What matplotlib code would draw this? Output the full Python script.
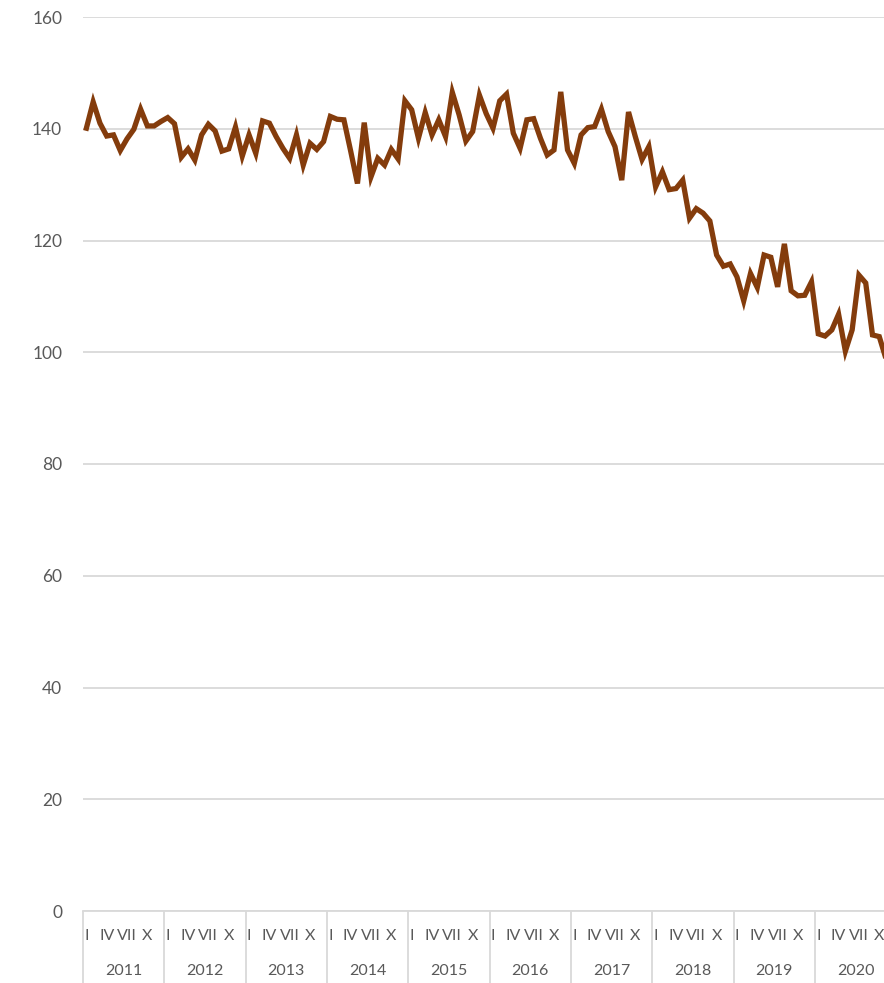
import numpy as np
import matplotlib.pyplot as plt

# monthly index values, Jan 2011 .. Nov 2020 (last point runs off the chart edge)
years = [2011, 2012, 2013, 2014, 2015, 2016, 2017, 2018, 2019, 2020]
month_labels = ["I", "IV", "VII", "X"]
month_label_pos = [0, 3, 6, 9]

values = [
    # 2011
    140.1, 144.8, 141.0, 138.7, 138.9, 136.1, 138.2, 139.9, 143.5, 140.5, 140.5, 141.3,
    # 2012
    142.0, 140.9, 134.9, 136.4, 134.4, 138.9, 140.8, 139.6, 136.0, 136.4, 140.3, 135.1,
    # 2013
    138.9, 135.6, 141.4, 141.0, 138.6, 136.5, 134.7, 138.9, 133.5, 137.4, 136.3, 137.7,
    # 2014
    142.2, 141.7, 141.6, 136.0, 130.2, 141.1, 131.4, 134.7, 133.5, 136.3, 134.6, 145.0,
    # 2015
    143.4, 138.3, 142.9, 138.9, 141.6, 138.6, 146.5, 142.5, 137.8, 139.5, 146.0, 142.7,
    # 2016
    140.1, 145.0, 146.2, 139.2, 136.5, 141.6, 141.8, 138.3, 135.3, 136.2, 146.6, 136.2,
    # 2017
    133.8, 138.9, 140.2, 140.4, 143.5, 139.5, 136.8, 130.8, 143.0, 138.6, 134.5, 136.8,
    # 2018
    129.6, 132.3, 129.1, 129.3, 130.8, 124.0, 125.7, 124.9, 123.5, 117.4, 115.4, 115.8,
    # 2019
    113.5, 109.2, 114.1, 111.6, 117.4, 117.0, 111.7, 119.4, 111.0, 110.1, 110.2, 112.6,
    # 2020
    103.3, 102.9, 104.0, 106.8, 100.2, 104.0, 113.8, 112.4, 103.1, 102.8, 98.8,
]

plt.rcParams['font.family'] = ['Lato', 'DejaVu Sans']

W, H = 884, 983
fig = plt.figure(figsize=(W / 100, H / 100), dpi=100)
ax = fig.add_axes([83 / W, (H - 911) / H, (W - 83) / W, (911 - 17) / H])

x = np.arange(len(values)) + 0.5
ax.plot(x, values, color="#843C0C", linewidth=3.8, solid_joinstyle="miter", zorder=3)

ax.set_ylim(0, 160)
ax.set_xlim(0, 118.2)
ax.set_yticks(range(0, 161, 20))
ax.grid(axis="y", color="#D9D9D9", linewidth=1.3, zorder=1)
ax.set_axisbelow(True)

for s in ["top", "right", "left"]:
    ax.spines[s].set_visible(False)
ax.spines["bottom"].set_color("#D9D9D9")
ax.spines["bottom"].set_linewidth(1.3)

ax.tick_params(axis="y", length=0, pad=15, labelsize=12.5, labelcolor="#595959")
ax.set_xticks([])

# category axis: months, years and separators drawn below the axis
trans = ax.get_xaxis_transform()
ax_h = 911 - 17
sep_bottom = -(983 - 911) / ax_h
for i, yr in enumerate(years):
    start = i * 12
    ax.vlines(start, sep_bottom, 0, transform=trans, colors="#D9D9D9",
              linewidth=1.3, clip_on=False)
    for lab, m in zip(month_labels, month_label_pos):
        ax.text(start + m + 0.5, -(936 - 911) / ax_h, lab, transform=trans,
                ha="center", va="center", fontsize=11.5, color="#595959", clip_on=False)
    ax.text(start + 6, -(971 - 911) / ax_h, str(yr), transform=trans,
            ha="center", va="center", fontsize=11.5, color="#595959", clip_on=False)

fig.savefig("out.png", dpi=100)
